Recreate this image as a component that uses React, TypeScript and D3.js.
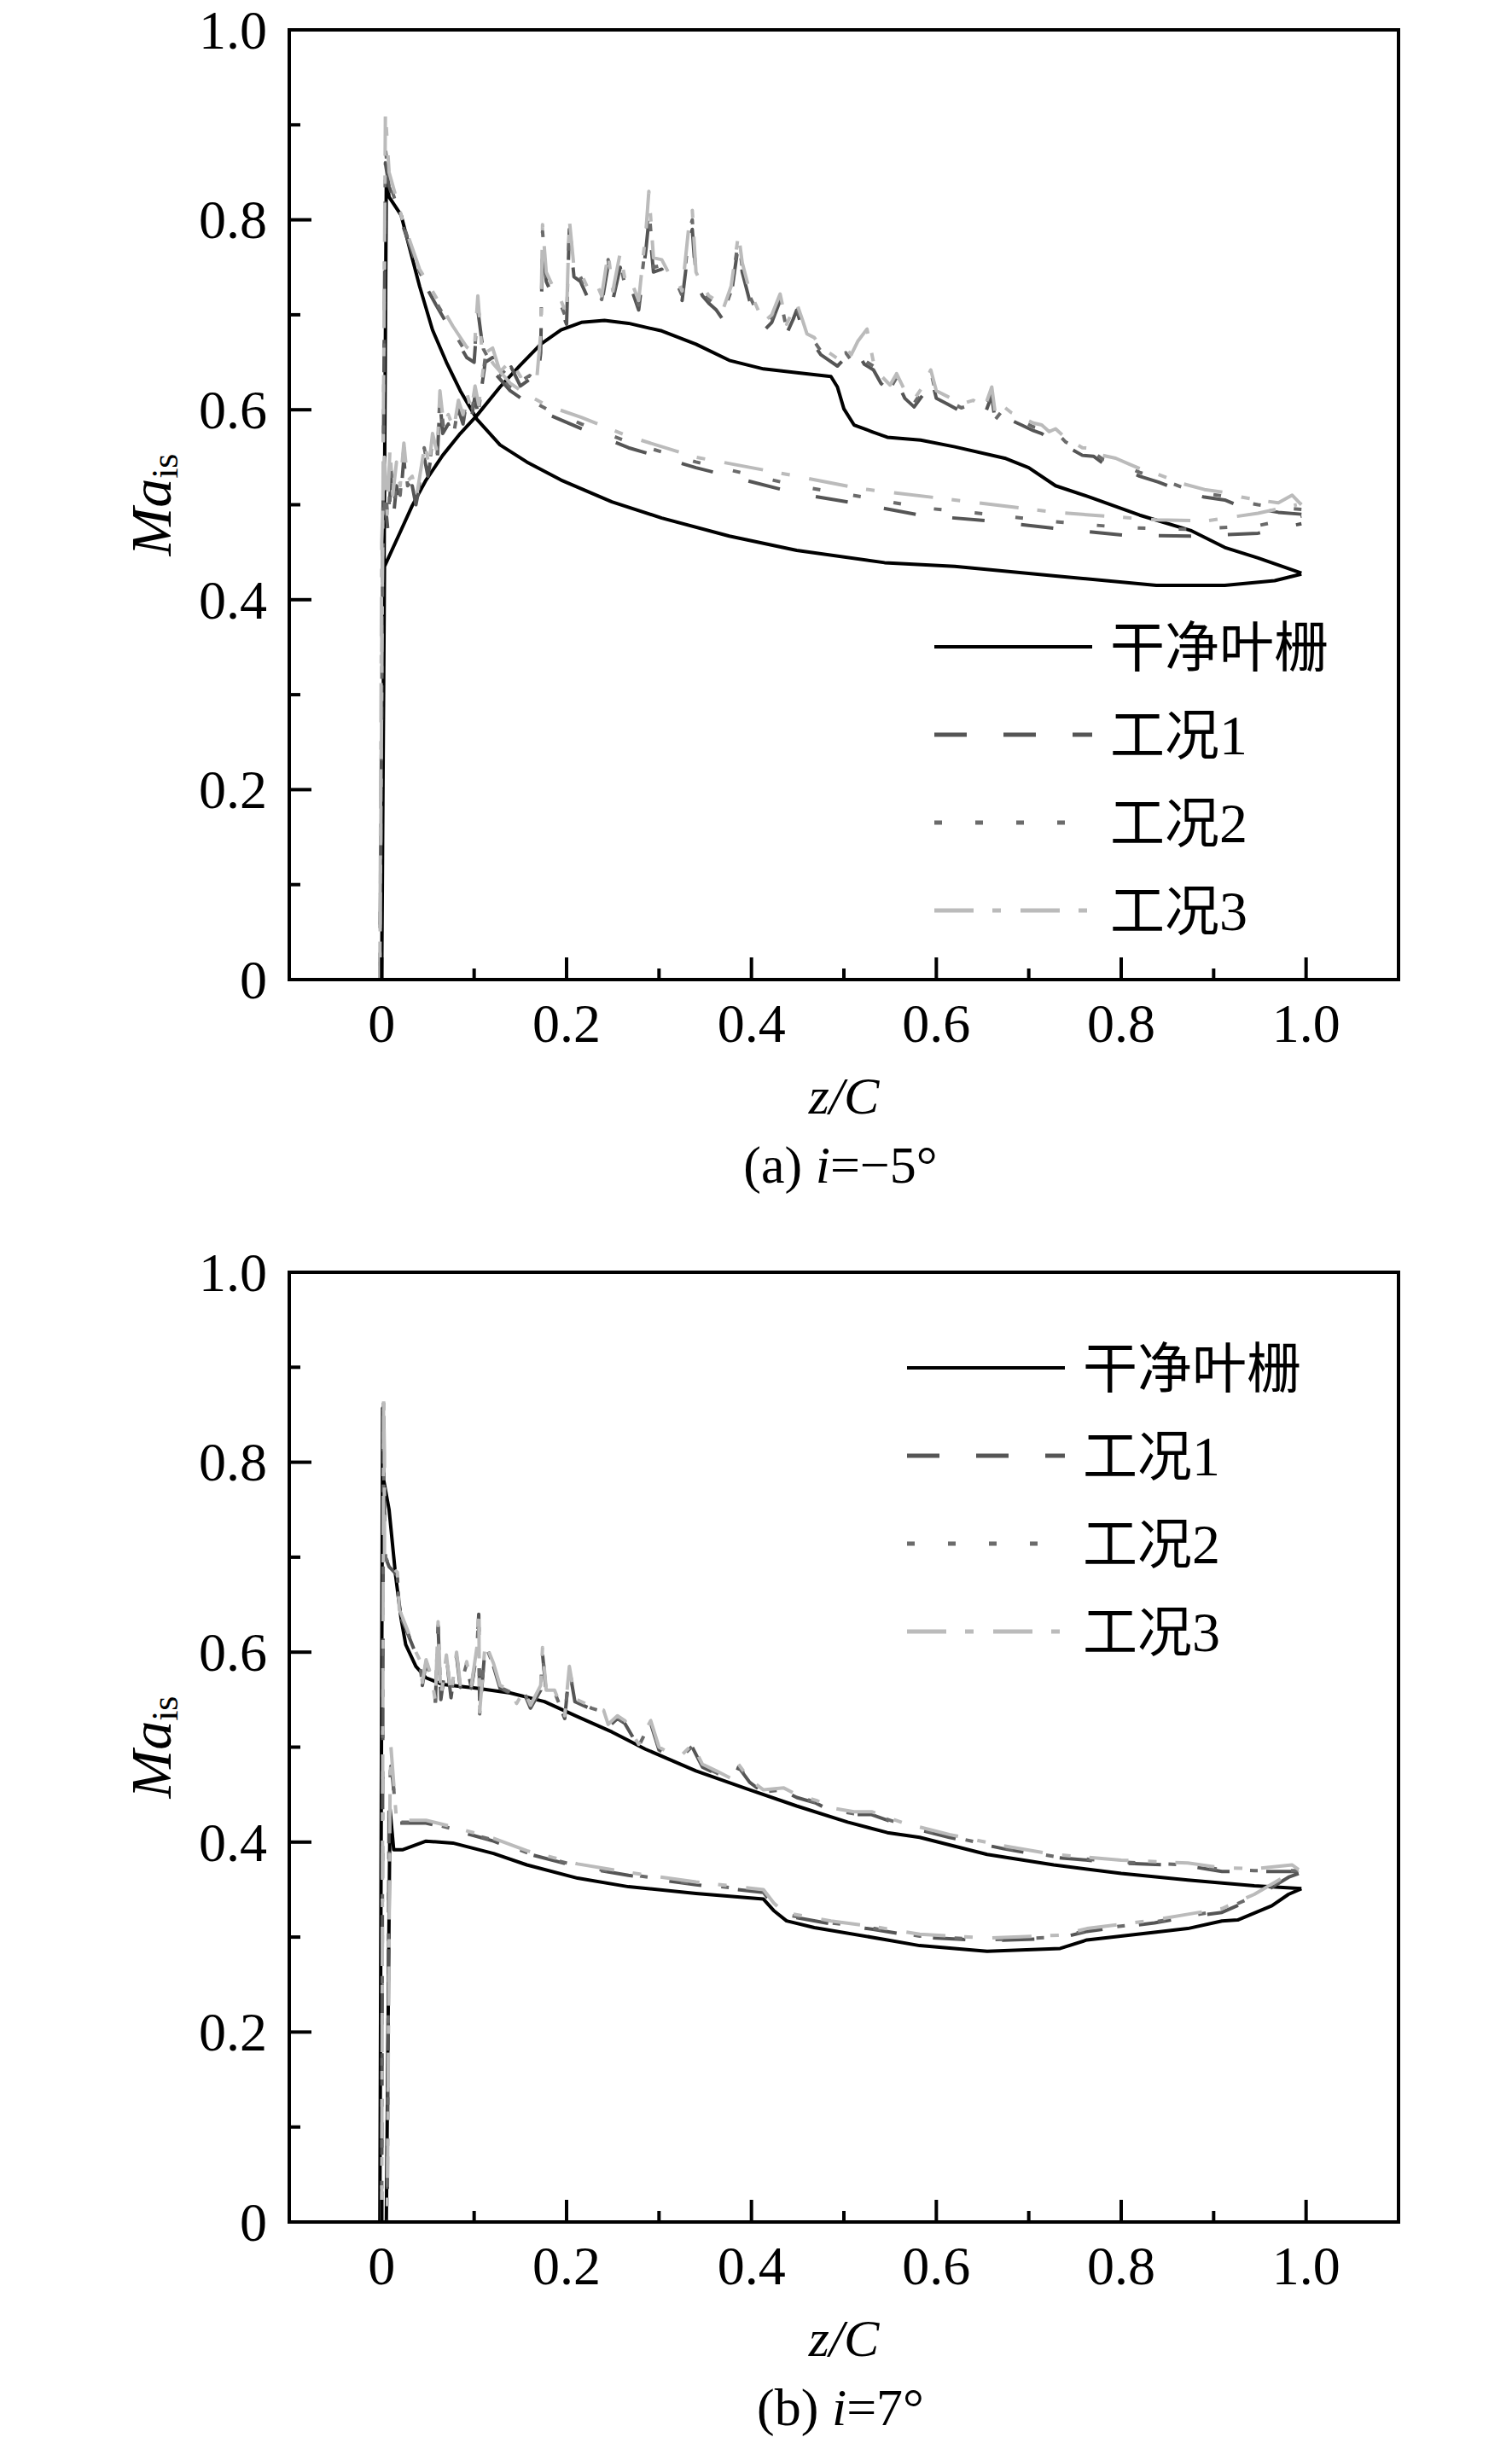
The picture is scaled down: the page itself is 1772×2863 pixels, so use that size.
import * as d3 from "d3";

type Pt = [number, number];

// ---------- (a) i = -5° ----------
// clean cascade: branch rising from LE (~0.43) and branch falling from the LE peak
const aCleanRise: Pt[] = [
  [0.003, 0.435], [0.019, 0.469], [0.033, 0.499], [0.048, 0.526], [0.066, 0.552], [0.085, 0.575],
  [0.103, 0.594], [0.128, 0.624], [0.15, 0.647], [0.172, 0.669], [0.194, 0.684], [0.216, 0.692],
  [0.241, 0.694], [0.267, 0.691], [0.303, 0.683], [0.34, 0.669], [0.376, 0.652], [0.413, 0.643],
  [0.449, 0.639], [0.486, 0.635], [0.493, 0.624], [0.5, 0.601], [0.511, 0.584], [0.53, 0.577],
  [0.547, 0.571], [0.583, 0.568], [0.62, 0.561], [0.674, 0.549], [0.7, 0.539], [0.729, 0.52],
  [0.766, 0.508], [0.82, 0.489], [0.875, 0.473], [0.912, 0.455], [0.948, 0.444], [0.995, 0.428],
];
const aCleanFall: Pt[] = [
  [0.0, 0.0], [0.005, 0.845], [0.008, 0.824], [0.021, 0.805], [0.03, 0.771], [0.041, 0.73],
  [0.055, 0.684], [0.07, 0.65], [0.085, 0.62], [0.103, 0.59], [0.128, 0.563], [0.157, 0.545],
  [0.194, 0.526], [0.249, 0.503], [0.303, 0.486], [0.376, 0.467], [0.449, 0.452], [0.544, 0.439],
  [0.62, 0.435], [0.729, 0.425], [0.838, 0.415], [0.912, 0.415], [0.966, 0.42], [0.995, 0.427],
];

const aCase1Rise: Pt[] = [
  [0.001, 0.44], [0.004, 0.5], [0.007, 0.47], [0.01, 0.53], [0.013, 0.49], [0.016, 0.52], [0.02, 0.5],
  [0.024, 0.55], [0.027, 0.51], [0.033, 0.52], [0.037, 0.5], [0.041, 0.52], [0.046, 0.55], [0.05, 0.53],
  [0.055, 0.56], [0.06, 0.545], [0.063, 0.61], [0.066, 0.575], [0.072, 0.585], [0.078, 0.57],
  [0.083, 0.6], [0.088, 0.585], [0.092, 0.61], [0.097, 0.59], [0.101, 0.615], [0.104, 0.595],
  [0.112, 0.65], [0.12, 0.655], [0.128, 0.632], [0.14, 0.645], [0.15, 0.625], [0.16, 0.632],
  [0.168, 0.625], [0.172, 0.66], [0.174, 0.78], [0.178, 0.735], [0.185, 0.72], [0.194, 0.705],
  [0.2, 0.69], [0.203, 0.79], [0.208, 0.74], [0.215, 0.735], [0.222, 0.72], [0.231, 0.728],
  [0.238, 0.712], [0.245, 0.752], [0.25, 0.715], [0.258, 0.75], [0.265, 0.718], [0.272, 0.722],
  [0.278, 0.705], [0.286, 0.77], [0.289, 0.8], [0.294, 0.745], [0.303, 0.748], [0.31, 0.735],
  [0.318, 0.732], [0.325, 0.715], [0.333, 0.78], [0.336, 0.79], [0.34, 0.735], [0.347, 0.72],
  [0.354, 0.712], [0.362, 0.705], [0.369, 0.695], [0.378, 0.72], [0.386, 0.775], [0.39, 0.745],
  [0.398, 0.715], [0.405, 0.7], [0.413, 0.683], [0.422, 0.692], [0.431, 0.715], [0.438, 0.68],
  [0.445, 0.695], [0.449, 0.705], [0.455, 0.685], [0.46, 0.672], [0.468, 0.668], [0.475, 0.658],
  [0.484, 0.652], [0.493, 0.646], [0.502, 0.655], [0.508, 0.648], [0.515, 0.66], [0.522, 0.648],
  [0.532, 0.642], [0.54, 0.628], [0.55, 0.618], [0.557, 0.63], [0.566, 0.612], [0.576, 0.603],
  [0.585, 0.615], [0.594, 0.636], [0.6, 0.612], [0.612, 0.606], [0.627, 0.598], [0.64, 0.602],
  [0.652, 0.594], [0.66, 0.615], [0.664, 0.585], [0.672, 0.595], [0.681, 0.589], [0.692, 0.584],
  [0.705, 0.578], [0.714, 0.575], [0.722, 0.569], [0.729, 0.572], [0.74, 0.562], [0.758, 0.552],
  [0.77, 0.551], [0.78, 0.544], [0.794, 0.541], [0.808, 0.535], [0.82, 0.53], [0.84, 0.524],
  [0.867, 0.514], [0.89, 0.508], [0.912, 0.505], [0.93, 0.498], [0.948, 0.496], [0.97, 0.492],
  [0.995, 0.49],
];
const aCase1Fall: Pt[] = [
  [-0.002, 0.0], [0.004, 0.86], [0.008, 0.835], [0.0225, 0.795], [0.041, 0.742], [0.059, 0.71],
  [0.077, 0.68], [0.092, 0.655], [0.1, 0.65], [0.104, 0.705], [0.11, 0.66], [0.121, 0.64],
  [0.139, 0.62], [0.157, 0.608], [0.18, 0.595], [0.216, 0.58], [0.267, 0.56], [0.34, 0.539],
  [0.449, 0.512], [0.522, 0.5], [0.583, 0.489], [0.656, 0.483], [0.729, 0.475], [0.802, 0.468],
  [0.875, 0.467], [0.948, 0.47], [0.995, 0.48],
];

const aCase2Rise: Pt[] = [
  [0.001, 0.45], [0.004, 0.52], [0.007, 0.48], [0.01, 0.54], [0.013, 0.5], [0.017, 0.53], [0.02, 0.51],
  [0.024, 0.56], [0.028, 0.52], [0.033, 0.525], [0.038, 0.505], [0.042, 0.53], [0.046, 0.56],
  [0.051, 0.535], [0.055, 0.57], [0.06, 0.55], [0.063, 0.615], [0.067, 0.58], [0.072, 0.59],
  [0.078, 0.575], [0.083, 0.605], [0.088, 0.59], [0.092, 0.612], [0.097, 0.595], [0.101, 0.62],
  [0.105, 0.6], [0.112, 0.655], [0.12, 0.66], [0.128, 0.636], [0.14, 0.648], [0.15, 0.63],
  [0.16, 0.636], [0.168, 0.63], [0.172, 0.67], [0.174, 0.788], [0.178, 0.74], [0.185, 0.725],
  [0.194, 0.71], [0.2, 0.695], [0.203, 0.795], [0.208, 0.745], [0.215, 0.74], [0.222, 0.725],
  [0.231, 0.732], [0.238, 0.716], [0.245, 0.758], [0.25, 0.72], [0.258, 0.755], [0.265, 0.722],
  [0.272, 0.726], [0.278, 0.71], [0.286, 0.78], [0.289, 0.815], [0.294, 0.75], [0.303, 0.752],
  [0.31, 0.74], [0.318, 0.736], [0.325, 0.72], [0.333, 0.79], [0.336, 0.8], [0.34, 0.74],
  [0.347, 0.725], [0.354, 0.716], [0.362, 0.71], [0.369, 0.7], [0.378, 0.725], [0.386, 0.78],
  [0.39, 0.75], [0.398, 0.72], [0.405, 0.705], [0.413, 0.688], [0.422, 0.697], [0.431, 0.718],
  [0.438, 0.685], [0.445, 0.7], [0.449, 0.708], [0.455, 0.69], [0.46, 0.676], [0.468, 0.672],
  [0.475, 0.662], [0.484, 0.656], [0.493, 0.65], [0.502, 0.66], [0.508, 0.652], [0.515, 0.665],
  [0.522, 0.652], [0.532, 0.646], [0.54, 0.632], [0.55, 0.622], [0.557, 0.634], [0.566, 0.616],
  [0.576, 0.607], [0.585, 0.62], [0.594, 0.64], [0.6, 0.616], [0.612, 0.61], [0.627, 0.602],
  [0.64, 0.606], [0.652, 0.598], [0.66, 0.62], [0.664, 0.59], [0.672, 0.6], [0.681, 0.593],
  [0.692, 0.588], [0.705, 0.582], [0.714, 0.58], [0.722, 0.573], [0.729, 0.577], [0.74, 0.566],
  [0.758, 0.556], [0.77, 0.555], [0.78, 0.548], [0.794, 0.545], [0.808, 0.539], [0.82, 0.534],
  [0.84, 0.528], [0.867, 0.518], [0.89, 0.512], [0.912, 0.509], [0.93, 0.503], [0.948, 0.5],
  [0.97, 0.497], [0.995, 0.495],
];
const aCase2Fall: Pt[] = [
  [-0.002, 0.0], [0.004, 0.875], [0.008, 0.84], [0.0225, 0.797], [0.041, 0.745], [0.059, 0.713],
  [0.077, 0.683], [0.092, 0.659], [0.1, 0.653], [0.104, 0.71], [0.11, 0.664], [0.121, 0.644],
  [0.139, 0.624], [0.157, 0.612], [0.18, 0.6], [0.216, 0.585], [0.267, 0.566], [0.34, 0.545],
  [0.449, 0.52], [0.522, 0.508], [0.583, 0.497], [0.656, 0.49], [0.729, 0.482], [0.802, 0.476],
  [0.875, 0.474], [0.948, 0.478], [0.995, 0.488],
];

const aCase3Rise: Pt[] = [
  [0.0, 0.46], [0.003, 0.55], [0.006, 0.49], [0.009, 0.56], [0.012, 0.51], [0.016, 0.545], [0.02, 0.52],
  [0.024, 0.565], [0.028, 0.525], [0.033, 0.53], [0.038, 0.51], [0.042, 0.535], [0.047, 0.565],
  [0.051, 0.54], [0.055, 0.575], [0.06, 0.555], [0.063, 0.62], [0.067, 0.585], [0.072, 0.595],
  [0.078, 0.58], [0.083, 0.61], [0.088, 0.595], [0.092, 0.618], [0.097, 0.6], [0.101, 0.625],
  [0.105, 0.605], [0.112, 0.66], [0.12, 0.665], [0.128, 0.64], [0.14, 0.652], [0.15, 0.635],
  [0.16, 0.64], [0.168, 0.635], [0.172, 0.68], [0.174, 0.795], [0.178, 0.745], [0.185, 0.73],
  [0.194, 0.715], [0.2, 0.7], [0.203, 0.8], [0.208, 0.75], [0.215, 0.745], [0.222, 0.73],
  [0.231, 0.736], [0.238, 0.72], [0.245, 0.765], [0.25, 0.725], [0.258, 0.765], [0.265, 0.728],
  [0.272, 0.73], [0.278, 0.715], [0.286, 0.79], [0.289, 0.83], [0.294, 0.76], [0.303, 0.758],
  [0.31, 0.745], [0.318, 0.74], [0.325, 0.725], [0.333, 0.8], [0.336, 0.81], [0.34, 0.745],
  [0.347, 0.73], [0.354, 0.72], [0.362, 0.715], [0.369, 0.705], [0.378, 0.73], [0.386, 0.785],
  [0.39, 0.755], [0.398, 0.725], [0.405, 0.71], [0.413, 0.692], [0.422, 0.7], [0.431, 0.722],
  [0.438, 0.69], [0.445, 0.705], [0.449, 0.712], [0.455, 0.695], [0.46, 0.68], [0.468, 0.676],
  [0.475, 0.666], [0.484, 0.66], [0.493, 0.654], [0.502, 0.665], [0.508, 0.658], [0.515, 0.672],
  [0.525, 0.685], [0.532, 0.65], [0.54, 0.636], [0.55, 0.626], [0.557, 0.638], [0.566, 0.62],
  [0.576, 0.611], [0.585, 0.624], [0.594, 0.642], [0.6, 0.62], [0.612, 0.614], [0.627, 0.606],
  [0.64, 0.61], [0.652, 0.602], [0.66, 0.624], [0.664, 0.594], [0.672, 0.604], [0.681, 0.597],
  [0.692, 0.592], [0.705, 0.586], [0.714, 0.584], [0.722, 0.577], [0.729, 0.58], [0.74, 0.57],
  [0.758, 0.56], [0.77, 0.559], [0.78, 0.552], [0.794, 0.549], [0.808, 0.543], [0.82, 0.538],
  [0.84, 0.532], [0.867, 0.522], [0.89, 0.516], [0.912, 0.513], [0.93, 0.508], [0.948, 0.505],
  [0.97, 0.502], [0.985, 0.51], [0.995, 0.5],
];
const aCase3Fall: Pt[] = [
  [-0.002, 0.0], [0.004, 0.913], [0.008, 0.85], [0.0225, 0.8], [0.041, 0.748], [0.059, 0.718],
  [0.077, 0.688], [0.092, 0.666], [0.1, 0.66], [0.104, 0.72], [0.108, 0.668], [0.121, 0.648],
  [0.139, 0.628], [0.157, 0.616], [0.18, 0.604], [0.216, 0.592], [0.267, 0.572], [0.34, 0.55],
  [0.449, 0.53], [0.517, 0.517], [0.62, 0.505], [0.729, 0.492], [0.838, 0.484], [0.892, 0.483],
  [0.948, 0.491], [0.99, 0.5],
];

// ---------- (b) i = 7° ----------
const bCleanUpper: Pt[] = [
  [0.001, 0.857], [0.002, 0.782], [0.008, 0.75], [0.015, 0.681], [0.021, 0.635], [0.026, 0.608],
  [0.037, 0.585], [0.048, 0.573], [0.066, 0.566], [0.103, 0.562], [0.139, 0.557], [0.176, 0.548],
  [0.212, 0.532], [0.249, 0.516], [0.285, 0.498], [0.34, 0.475], [0.395, 0.456], [0.449, 0.438],
  [0.504, 0.421], [0.547, 0.41], [0.582, 0.405], [0.655, 0.387], [0.727, 0.376], [0.8, 0.367],
  [0.872, 0.36], [0.944, 0.354], [0.995, 0.351],
];
const bCleanLower: Pt[] = [
  [-0.002, 0.0], [0.005, 0.0], [0.009, 0.435], [0.013, 0.392], [0.023, 0.392], [0.048, 0.401],
  [0.077, 0.399], [0.121, 0.388], [0.157, 0.376], [0.212, 0.362], [0.267, 0.353], [0.34, 0.346],
  [0.413, 0.34], [0.424, 0.328], [0.438, 0.317], [0.468, 0.31], [0.547, 0.297], [0.582, 0.291],
  [0.655, 0.285], [0.734, 0.288], [0.763, 0.297], [0.836, 0.305], [0.872, 0.309], [0.909, 0.317],
  [0.926, 0.318], [0.963, 0.333], [0.981, 0.345], [0.995, 0.351],
];

const bCase1Upper: Pt[] = [
  [0.002, 0.86], [0.002, 0.8], [0.004, 0.7], [0.008, 0.69], [0.013, 0.685], [0.017, 0.68],
  [0.019, 0.64], [0.026, 0.625], [0.03, 0.615], [0.037, 0.598], [0.041, 0.589], [0.044, 0.565],
  [0.048, 0.589], [0.054, 0.571], [0.058, 0.545], [0.061, 0.628], [0.064, 0.55], [0.07, 0.594],
  [0.075, 0.552], [0.081, 0.596], [0.085, 0.563], [0.092, 0.587], [0.097, 0.562], [0.103, 0.6],
  [0.105, 0.64], [0.106, 0.534], [0.112, 0.607], [0.121, 0.585], [0.128, 0.562], [0.139, 0.557],
  [0.146, 0.543], [0.154, 0.557], [0.161, 0.541], [0.172, 0.56], [0.174, 0.598], [0.178, 0.557],
  [0.187, 0.557], [0.198, 0.53], [0.203, 0.582], [0.209, 0.548], [0.227, 0.54], [0.24, 0.536],
  [0.245, 0.521], [0.255, 0.53], [0.263, 0.525], [0.278, 0.5], [0.291, 0.525], [0.3, 0.497],
  [0.311, 0.491], [0.325, 0.489], [0.336, 0.5], [0.347, 0.479], [0.362, 0.472], [0.38, 0.463],
  [0.386, 0.479], [0.398, 0.463], [0.413, 0.452], [0.435, 0.454], [0.449, 0.447], [0.47, 0.441],
  [0.486, 0.433], [0.511, 0.429], [0.53, 0.429], [0.547, 0.423], [0.565, 0.417], [0.614, 0.405],
  [0.673, 0.393], [0.727, 0.384], [0.8, 0.378], [0.872, 0.375], [0.909, 0.369], [0.944, 0.369],
  [0.992, 0.369],
];
const bCase1Lower: Pt[] = [
  [0.0, 0.0], [0.006, 0.0], [0.008, 0.44], [0.01, 0.48], [0.012, 0.465], [0.016, 0.42], [0.023, 0.42],
  [0.048, 0.42], [0.077, 0.413], [0.121, 0.401], [0.157, 0.388], [0.212, 0.374], [0.267, 0.365],
  [0.34, 0.355], [0.413, 0.347], [0.424, 0.333], [0.435, 0.323], [0.486, 0.314], [0.533, 0.308],
  [0.582, 0.3], [0.655, 0.296], [0.734, 0.299], [0.763, 0.306], [0.836, 0.315], [0.872, 0.321],
  [0.909, 0.326], [0.944, 0.341], [0.981, 0.363], [0.992, 0.367],
];

const bCase2Upper: Pt[] = [
  [0.002, 0.865], [0.002, 0.805], [0.004, 0.7], [0.008, 0.692], [0.013, 0.686], [0.017, 0.682],
  [0.019, 0.642], [0.026, 0.626], [0.03, 0.616], [0.037, 0.599], [0.041, 0.59], [0.044, 0.566],
  [0.048, 0.59], [0.054, 0.572], [0.058, 0.546], [0.061, 0.63], [0.064, 0.551], [0.07, 0.595],
  [0.075, 0.553], [0.081, 0.598], [0.085, 0.564], [0.092, 0.588], [0.097, 0.563], [0.103, 0.602],
  [0.105, 0.642], [0.106, 0.535], [0.112, 0.608], [0.121, 0.586], [0.128, 0.563], [0.139, 0.558],
  [0.146, 0.544], [0.154, 0.558], [0.161, 0.542], [0.172, 0.562], [0.174, 0.6], [0.178, 0.558],
  [0.187, 0.558], [0.198, 0.531], [0.203, 0.583], [0.209, 0.549], [0.227, 0.541], [0.24, 0.537],
  [0.245, 0.522], [0.255, 0.531], [0.263, 0.526], [0.278, 0.501], [0.291, 0.526], [0.3, 0.498],
  [0.311, 0.492], [0.325, 0.49], [0.336, 0.501], [0.347, 0.48], [0.362, 0.473], [0.38, 0.464],
  [0.386, 0.48], [0.398, 0.464], [0.413, 0.453], [0.435, 0.455], [0.449, 0.448], [0.47, 0.442],
  [0.486, 0.434], [0.511, 0.43], [0.53, 0.43], [0.547, 0.424], [0.565, 0.418], [0.614, 0.406],
  [0.673, 0.394], [0.727, 0.385], [0.8, 0.379], [0.872, 0.376], [0.909, 0.371], [0.944, 0.37],
  [0.992, 0.37],
];
const bCase2Lower: Pt[] = [
  [0.0, 0.0], [0.006, 0.0], [0.008, 0.445], [0.01, 0.485], [0.012, 0.468], [0.016, 0.421],
  [0.023, 0.421], [0.048, 0.421], [0.077, 0.414], [0.121, 0.402], [0.157, 0.389], [0.212, 0.375],
  [0.267, 0.366], [0.34, 0.356], [0.413, 0.348], [0.424, 0.334], [0.435, 0.324], [0.486, 0.315],
  [0.533, 0.309], [0.582, 0.301], [0.655, 0.297], [0.734, 0.3], [0.763, 0.307], [0.836, 0.316],
  [0.872, 0.322], [0.909, 0.328], [0.944, 0.343], [0.981, 0.364], [0.992, 0.368],
];

const bCase3Upper: Pt[] = [
  [0.002, 0.87], [0.003, 0.81], [0.003, 0.7], [0.008, 0.695], [0.013, 0.688], [0.017, 0.684],
  [0.019, 0.645], [0.026, 0.628], [0.03, 0.618], [0.037, 0.6], [0.041, 0.592], [0.044, 0.568],
  [0.048, 0.592], [0.054, 0.574], [0.058, 0.548], [0.061, 0.632], [0.064, 0.553], [0.07, 0.597],
  [0.075, 0.555], [0.081, 0.6], [0.085, 0.566], [0.092, 0.59], [0.097, 0.565], [0.103, 0.605],
  [0.105, 0.645], [0.106, 0.537], [0.112, 0.61], [0.121, 0.588], [0.128, 0.565], [0.139, 0.56],
  [0.146, 0.546], [0.154, 0.56], [0.161, 0.544], [0.172, 0.565], [0.174, 0.605], [0.178, 0.56],
  [0.187, 0.56], [0.198, 0.533], [0.203, 0.585], [0.209, 0.551], [0.227, 0.543], [0.24, 0.539],
  [0.245, 0.524], [0.255, 0.533], [0.263, 0.528], [0.278, 0.503], [0.291, 0.528], [0.3, 0.5],
  [0.311, 0.494], [0.325, 0.492], [0.336, 0.503], [0.347, 0.482], [0.362, 0.475], [0.38, 0.466],
  [0.386, 0.482], [0.398, 0.466], [0.413, 0.455], [0.435, 0.457], [0.449, 0.45], [0.47, 0.444],
  [0.486, 0.436], [0.511, 0.432], [0.53, 0.432], [0.547, 0.426], [0.565, 0.42], [0.614, 0.408],
  [0.673, 0.396], [0.727, 0.387], [0.8, 0.381], [0.872, 0.378], [0.909, 0.373], [0.944, 0.372],
  [0.985, 0.376], [0.992, 0.371],
];
const bCase3Lower: Pt[] = [
  [0.0, 0.0], [0.006, 0.0], [0.009, 0.45], [0.01, 0.5], [0.012, 0.475], [0.016, 0.423],
  [0.023, 0.423], [0.048, 0.423], [0.077, 0.416], [0.121, 0.404], [0.157, 0.391], [0.212, 0.377],
  [0.267, 0.368], [0.34, 0.358], [0.413, 0.35], [0.424, 0.336], [0.435, 0.326], [0.486, 0.317],
  [0.533, 0.311], [0.582, 0.303], [0.655, 0.299], [0.734, 0.302], [0.763, 0.309], [0.836, 0.318],
  [0.872, 0.324], [0.909, 0.33], [0.944, 0.345], [0.981, 0.366], [0.992, 0.37],
];

const xTicks = [0, 0.2, 0.4, 0.6, 0.8, 1.0];
const xMinor = [0.1, 0.3, 0.5, 0.7, 0.9];
const yTicks = [0, 0.2, 0.4, 0.6, 0.8, 1.0];
const yMinor = [0.1, 0.3, 0.5, 0.7, 0.9];
// legend label = CJK part + number part
const legendCjk = ["干净叶栅", "工况", "工况", "工况"];
const legendNum = ["", "1", "2", "3"];

const W = 1772;
const H = 2863;
const LEFT = 339;
const RIGHT = 1639;
const PH = 1113;
const SERIF = "'Liberation Serif', 'Times New Roman', serif";
const CJK = "'Noto Sans CJK SC', sans-serif";

const lineStyles = [
  { color: "#000000", dash: undefined as string | undefined },
  { color: "#555555", dash: "38 43" },
  { color: "#6b6b6b", dash: "9 39" },
  { color: "#bbbbbb", dash: "46 22 10 23" },
];

// one closed curve per series: first branch reversed (TE -> LE), then second branch (LE -> TE)
const loop = (a: Pt[], b: Pt[]): Pt[] => [...a].reverse().concat(b);

type PanelProps = {
  id: string;
  top: number;
  curves: Pt[][];
  legendX: number;
  legendY: number;
  caption: [string, string, string];
};

function Panel({ id, top, curves, legendX, legendY, caption }: PanelProps) {
  const bottom = top + PH;
  const x = d3.scaleLinear().domain([-0.1, 1.1]).range([LEFT, RIGHT]);
  const y = d3.scaleLinear().domain([0, 1]).range([bottom, top]);
  const line = d3
    .line<Pt>()
    .x((d) => x(d[0]))
    .y((d) => y(d[1]))
    .curve(d3.curveLinear);
  const fmt = (v: number) => (v === 0 ? "0" : d3.format(".1f")(v));
  const cx = (LEFT + RIGHT) / 2;

  return (
    <g>
      <defs>
        <clipPath id={`clip-${id}`}>
          <rect x={LEFT} y={top} width={RIGHT - LEFT} height={PH} />
        </clipPath>
      </defs>

      <g clipPath={`url(#clip-${id})`}>
        {curves.map((c, i) => (
          <path
            key={i}
            d={line(c) ?? ""}
            fill="none"
            stroke={lineStyles[i].color}
            strokeWidth={4}
            strokeDasharray={lineStyles[i].dash}
            strokeLinejoin="round"
          />
        ))}
      </g>

      {/* ticks, inward on left and bottom */}
      {xTicks.map((t) => (
        <line key={`xt${t}`} x1={x(t)} x2={x(t)} y1={bottom} y2={bottom - 26} stroke="#000" strokeWidth={4} />
      ))}
      {xMinor.map((t) => (
        <line key={`xm${t}`} x1={x(t)} x2={x(t)} y1={bottom} y2={bottom - 13} stroke="#000" strokeWidth={4} />
      ))}
      {yTicks.map((t) => (
        <line key={`yt${t}`} x1={LEFT} x2={LEFT + 26} y1={y(t)} y2={y(t)} stroke="#000" strokeWidth={4} />
      ))}
      {yMinor.map((t) => (
        <line key={`ym${t}`} x1={LEFT} x2={LEFT + 13} y1={y(t)} y2={y(t)} stroke="#000" strokeWidth={4} />
      ))}
      <rect x={LEFT} y={top} width={RIGHT - LEFT} height={PH} fill="none" stroke="#000" strokeWidth={4} />

      {/* tick labels */}
      {xTicks.map((t) => (
        <text key={`xl${t}`} x={x(t)} y={bottom + 73} textAnchor="middle" fontFamily={SERIF} fontSize={64}>
          {fmt(t)}
        </text>
      ))}
      {yTicks.map((t) => (
        <text key={`yl${t}`} x={LEFT - 26} y={y(t)} dy="0.34em" textAnchor="end" fontFamily={SERIF} fontSize={64}>
          {fmt(t)}
        </text>
      ))}

      {/* axis titles */}
      <text x={cx} y={bottom + 157} textAnchor="middle" fontFamily={SERIF} fontSize={62} fontStyle="italic">
        z/C
      </text>
      <text
        transform={`translate(200, ${(top + bottom) / 2}) rotate(-90)`}
        textAnchor="middle"
        fontFamily={SERIF}
        fontSize={68}
      >
        <tspan fontStyle="italic">Ma</tspan>
        <tspan fontSize={44} dy={8}>is</tspan>
      </text>

      {/* caption */}
      <text x={cx - 4} y={bottom + 238} textAnchor="middle" fontFamily={SERIF} fontSize={62}>
        <tspan>{caption[0]}</tspan>
        <tspan fontStyle="italic">{caption[1]}</tspan>
        <tspan>{caption[2]}</tspan>
      </text>

      {/* legend */}
      {legendCjk.map((name, i) => {
        const ly = legendY + i * 103;
        return (
          <g key={i}>
            <line
              x1={legendX}
              x2={legendX + 185}
              y1={ly}
              y2={ly}
              stroke={lineStyles[i].color}
              strokeWidth={i === 0 ? 4 : 5}
              strokeDasharray={lineStyles[i].dash}
            />
            <text x={legendX + 206} y={ly} dy="0.36em" fontSize={64}>
              <tspan fontFamily={CJK}>{name}</tspan>
              {legendNum[i] && (
                <tspan fontFamily={SERIF} fontSize={66}>
                  {legendNum[i]}
                </tspan>
              )}
            </text>
          </g>
        );
      })}
    </g>
  );
}

export default function App() {
  const aCurves = [
    loop(aCleanRise, aCleanFall),
    loop(aCase1Rise, aCase1Fall),
    loop(aCase2Rise, aCase2Fall),
    loop(aCase3Rise, aCase3Fall),
  ];
  const bCurves = [
    loop(bCleanUpper, bCleanLower),
    loop(bCase1Upper, bCase1Lower),
    loop(bCase2Upper, bCase2Lower),
    loop(bCase3Upper, bCase3Lower),
  ];
  return (
    <svg
      width={W}
      height={H}
      viewBox={`0 0 ${W} ${H}`}
      style={{ position: "absolute", left: 0, top: 0, background: "#fff" }}
    >
      <rect width={W} height={H} fill="#fff" />
      <Panel id="a" top={35} curves={aCurves} legendX={1095} legendY={758} caption={["(a) ", "i", "=\u22125°"]} />
      <Panel id="b" top={1491} curves={bCurves} legendX={1063} legendY={1603} caption={["(b) ", "i", "=7°"]} />
    </svg>
  );
}
